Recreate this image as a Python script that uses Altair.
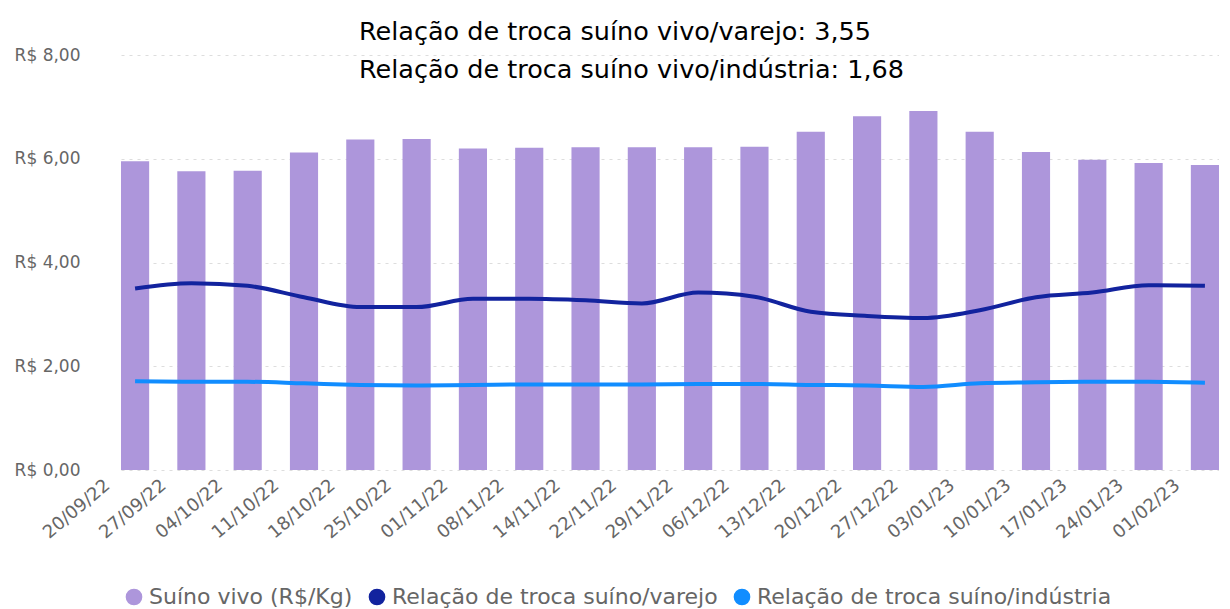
import altair as alt
import pandas as pd

# ---- data ----
datas = ["20/09/22", "27/09/22", "04/10/22", "11/10/22", "18/10/22", "25/10/22",
         "01/11/22", "08/11/22", "14/11/22", "22/11/22", "29/11/22", "06/12/22",
         "13/12/22", "20/12/22", "27/12/22", "03/01/23", "10/01/23", "17/01/23",
         "24/01/23", "01/02/23"]
suino_vivo = [5.95, 5.76, 5.77, 6.12, 6.37, 6.38, 6.20, 6.21, 6.22, 6.22,
              6.22, 6.23, 6.52, 6.82, 6.92, 6.52, 6.13, 5.98, 5.92, 5.88]
rel_varejo = [3.50, 3.60, 3.55, 3.33, 3.14, 3.14, 3.30, 3.30, 3.27, 3.21,
              3.42, 3.34, 3.05, 2.97, 2.93, 3.08, 3.33, 3.42, 3.56, 3.55]
rel_industria = [1.71, 1.70, 1.70, 1.67, 1.64, 1.63, 1.64, 1.65, 1.65, 1.65,
                 1.66, 1.66, 1.64, 1.63, 1.60, 1.67, 1.69, 1.70, 1.70, 1.68]
series = ["Suíno vivo (R$/Kg)", "Relação de troca suíno/varejo",
          "Relação de troca suíno/indústria"]
cores = ["#AD96DB", "#12239E", "#118DFF"]
titulo = ["Relação de troca suíno vivo/varejo: 3,55",
          "Relação de troca suíno vivo/indústria: 1,68"]
y_ticks = [0, 2, 4, 6, 8]

n = len(datas)
df = pd.DataFrame({
    "data": datas * 3,
    "serie": [series[0]] * n + [series[1]] * n + [series[2]] * n,
    "valor": suino_vivo + rel_varejo + rel_industria,
})

FONT = "DejaVu Sans"
GRAY = "#666666"

x = alt.X("data:N", sort=datas,
          scale=alt.Scale(paddingInner=0.5, paddingOuter=0.0),
          axis=alt.Axis(title=None, labelAngle=-40, labelAlign="right",
                        labelBaseline="top", labelOffset=-33, labelPadding=6,
                        domain=False, ticks=False, labelFont=FONT,
                        labelFontSize=18, labelColor=GRAY))
y = alt.Y("valor:Q", scale=alt.Scale(domain=[0, 8]),
          axis=alt.Axis(title=None, values=y_ticks,
                        labelExpr="'R$ ' + replace(format(datum.value, '.2f'), '.', ',')",
                        grid=True, gridDash=[3, 5], gridColor="#DDDDDD",
                        domain=False, ticks=False, labelPadding=41,
                        labelFont=FONT, labelFontSize=17, labelColor=GRAY))

legend_layer = alt.Chart(df).mark_circle(opacity=0, size=1).encode(
    color=alt.Color("serie:N", scale=alt.Scale(domain=series, range=cores),
                    sort=series,
                    legend=alt.Legend(title=None, orient="none", legendX=2, legendY=531,
                                      direction="horizontal", symbolType="circle",
                                      symbolSize=230, symbolOpacity=1,
                                      labelFont=FONT, labelFontSize=22,
                                      labelColor=GRAY, columnPadding=13,
                                      labelOffset=4, padding=0, labelLimit=600))
)

bars = alt.Chart(df).transform_filter(
    alt.datum.serie == series[0]
).mark_bar().encode(
    x=x, y=y,
    color=alt.Color("serie:N", scale=alt.Scale(domain=series, range=cores), legend=None),
)

lines = alt.Chart(df).transform_filter(
    alt.datum.serie != series[0]
).mark_line(strokeWidth=4, interpolate="monotone").encode(
    x=x, y=y,
    color=alt.Color("serie:N", scale=alt.Scale(domain=series, range=cores), legend=None),
    detail="serie:N",
)

chart = alt.layer(legend_layer, bars, lines).properties(
    width=1098, height=415,
    autosize=alt.AutoSizeParams(type="none"),
    padding={"left": 113, "top": 47, "right": 0, "bottom": 139},
    title=alt.TitleParams(text=titulo, anchor="start", frame="group", dx=238, dy=37,
                          fontSize=25.5, font=FONT, fontWeight="normal",
                          color="black", lineHeight=37.5, offset=0),
).configure_view(stroke=None)

chart.save("out.html", embed_options={"renderer": "svg", "actions": False})
